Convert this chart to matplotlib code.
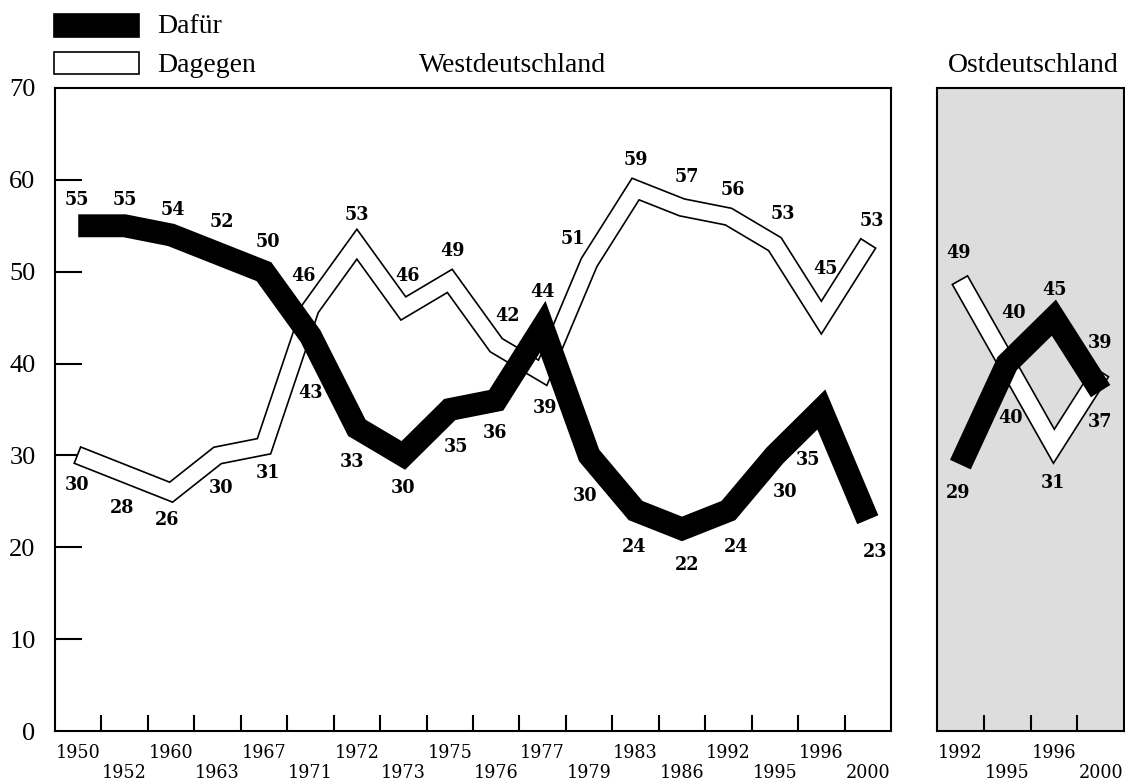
"""
Todesstrafe: Dafür / Dagegen, West- und Ostdeutschland.

Recreates the two-panel line chart: a wide white panel for West Germany
and a narrow grey panel for East Germany, thick black line for "Dafür",
outlined white line for "Dagegen", every point labelled with its value.
"""

import numpy as np
import matplotlib.pyplot as plt
from matplotlib.patches import Rectangle

# -----------------------------------------------------------------------------
# Data
# -----------------------------------------------------------------------------
west_years = ["1950", "1952", "1960", "1963", "1967", "1971", "1972", "1973", "1975",
              "1976", "1977", "1979", "1983", "1986", "1992", "1995", "1996", "2000"]
west_dafuer = [55, 55, 54, 52, 50, 43, 33, 30, 35, 36, 44, 30, 24, 22, 24, 30, 35, 23]
west_dagegen = [30, 28, 26, 30, 31, 46, 53, 46, 49, 42, 39, 51, 59, 57, 56, 53, 45, 53]

east_years = ["1992", "1995", "1996", "2000"]
east_dafuer = [29, 40, 45, 37]
east_dagegen = [49, 40, 31, 39]

y_ticks = [0, 10, 20, 30, 40, 50, 60, 70]

# Label offsets in pixels (dx, dy) relative to each point
west_dafuer_off = [(-1, 26), (0, 26), (2, 25), (4, 31), (4, 30), (0, -57), (-5, -34),
                   (0, -33), (6, -37), (-1, -33), (0, 35), (-4, -41), (-1, -36),
                   (5, -36), (8, -36), (10, -37), (-13, -50), (7, -32)]
west_dagegen_off = [(-1, -30), (-3, -34), (-4, -28), (4, -33), (4, -27), (-7, 32),
                    (0, 29), (4, 32), (3, 30), (11, 29), (2, -35), (-16, 24), (0, 29),
                    (5, 30), (4, 27), (8, 30), (4, 49), (4, 23)]
east_dafuer_off = [(-2, -28), (6, 51), (1, 28), (-1, -31)]
east_dagegen_off = [(-2, 28), (3, -54), (-1, -37), (-1, 30)]

# -----------------------------------------------------------------------------
# Style
# -----------------------------------------------------------------------------
W, H = 1125, 782
TEXT_FONT = "Liberation Serif"
NUM_FONT = "DejaVu Serif"
BLACK_LW = 16.5
WHITE_LW = 11.4
WHITE_OUTLINE_LW = 13.8
SPINE_LW = 1.5
EAST_BG = "#dddddd"


def extended_line(ax, x, y, extra_px):
    """Return the polyline stretched by extra_px pixels at both ends (data coords)."""
    pts = ax.transData.transform(np.column_stack([x, y]))
    for end, nxt in ((0, 1), (-1, -2)):
        d = pts[end] - pts[nxt]
        pts[end] = pts[end] + d / np.hypot(*d) * extra_px
    return ax.transData.inverted().transform(pts).T


def draw_panel(ax, years, dafuer, dagegen, dafuer_off, dagegen_off):
    """Draw both series, the value labels and the alternating year labels."""
    x = list(range(len(years)))
    ax.set_xlim(-0.5, len(years) - 0.5)
    ax.set_ylim(0, 70)

    # Dagegen: white band inside a black outline (drawn first, black goes on top)
    ox, oy = extended_line(ax, x, dagegen, 1.7)
    ax.plot(ox, oy, color="black", lw=WHITE_OUTLINE_LW, solid_capstyle="butt",
            solid_joinstyle="miter", zorder=2)
    ax.plot(x, dagegen, color="white", lw=WHITE_LW, solid_capstyle="butt",
            solid_joinstyle="miter", zorder=2)
    # Dafür: thick black band
    ax.plot(x, dafuer, color="black", lw=BLACK_LW, solid_capstyle="butt",
            solid_joinstyle="miter", zorder=3)

    for xi, v, (dx, dy) in zip(x, dafuer, dafuer_off):
        ax.annotate(str(v), (xi, v), xytext=(dx, dy), textcoords="offset pixels",
                    ha="center", va="center", fontsize=14, fontweight="bold",
                    family=NUM_FONT, fontstretch="condensed", zorder=5)
    for xi, v, (dx, dy) in zip(x, dagegen, dagegen_off):
        ax.annotate(str(v), (xi, v), xytext=(dx, dy), textcoords="offset pixels",
                    ha="center", va="center", fontsize=14, fontweight="bold",
                    family=NUM_FONT, fontstretch="condensed", zorder=5)

    # Tick marks at the category boundaries, pointing inwards
    ax.set_xticks([i + 0.5 for i in range(len(years) - 1)])
    ax.set_xticklabels([])
    ax.tick_params(axis="x", direction="in", length=11.5, width=SPINE_LW)

    # Year labels in two alternating rows
    for i, yr in enumerate(years):
        dy = -22 if i % 2 == 0 else -42
        ax.annotate(yr, (i, 0), xycoords=("data", "axes fraction"), xytext=(0, dy),
                    textcoords="offset pixels", ha="center", va="center",
                    fontsize=14, family=NUM_FONT, fontstretch="condensed",
                    annotation_clip=False)

    for sp in ax.spines.values():
        sp.set_linewidth(SPINE_LW)


def main() -> None:
    fig = plt.figure(figsize=(W / 100, H / 100), dpi=100)

    # -------------------------------------------------------------------------
    # West panel
    # -------------------------------------------------------------------------
    ax_w = fig.add_axes([55 / W, 1 - 731 / H, (891 - 55) / W, (731 - 88) / H])
    draw_panel(ax_w, west_years, west_dafuer, west_dagegen,
               west_dafuer_off, west_dagegen_off)
    ax_w.set_yticks(y_ticks)
    ax_w.set_yticklabels([str(t) for t in y_ticks], family=TEXT_FONT, fontsize=19)
    ax_w.tick_params(axis="y", direction="in", length=19.5, width=SPINE_LW, pad=14)
    # hide the tick marks that sit on top of the frame
    ax_w.yaxis.get_major_ticks()[0].tick1line.set_visible(False)
    ax_w.yaxis.get_major_ticks()[-1].tick1line.set_visible(False)

    # -------------------------------------------------------------------------
    # East panel
    # -------------------------------------------------------------------------
    ax_e = fig.add_axes([937 / W, 1 - 731 / H, (1124 - 937) / W, (731 - 88) / H])
    ax_e.set_facecolor(EAST_BG)
    draw_panel(ax_e, east_years, east_dafuer, east_dagegen,
               east_dafuer_off, east_dagegen_off)
    ax_e.set_yticks([])

    # -------------------------------------------------------------------------
    # Titles and legend
    # -------------------------------------------------------------------------
    fig.text(513 / W, 1 - 72 / H, "Westdeutschland", ha="center", va="baseline",
             fontsize=20, family=TEXT_FONT)
    fig.text(1033 / W, 1 - 72 / H, "Ostdeutschland", ha="center", va="baseline",
             fontsize=20, family=TEXT_FONT)

    fig.patches.append(Rectangle((54 / W, 1 - 37 / H), 85 / W, 23 / H,
                                 transform=fig.transFigure, facecolor="black",
                                 edgecolor="black", lw=1.2))
    fig.patches.append(Rectangle((54 / W, 1 - 74 / H), 85 / W, 22 / H,
                                 transform=fig.transFigure, facecolor="white",
                                 edgecolor="black", lw=1.2))
    fig.text(157 / W, 1 - 33 / H, "Dafür", ha="left", va="baseline",
             fontsize=20, family=TEXT_FONT)
    fig.text(157 / W, 1 - 72 / H, "Dagegen", ha="left", va="baseline",
             fontsize=20, family=TEXT_FONT)

    fig.savefig("out.png", dpi=100)


if __name__ == "__main__":
    main()
